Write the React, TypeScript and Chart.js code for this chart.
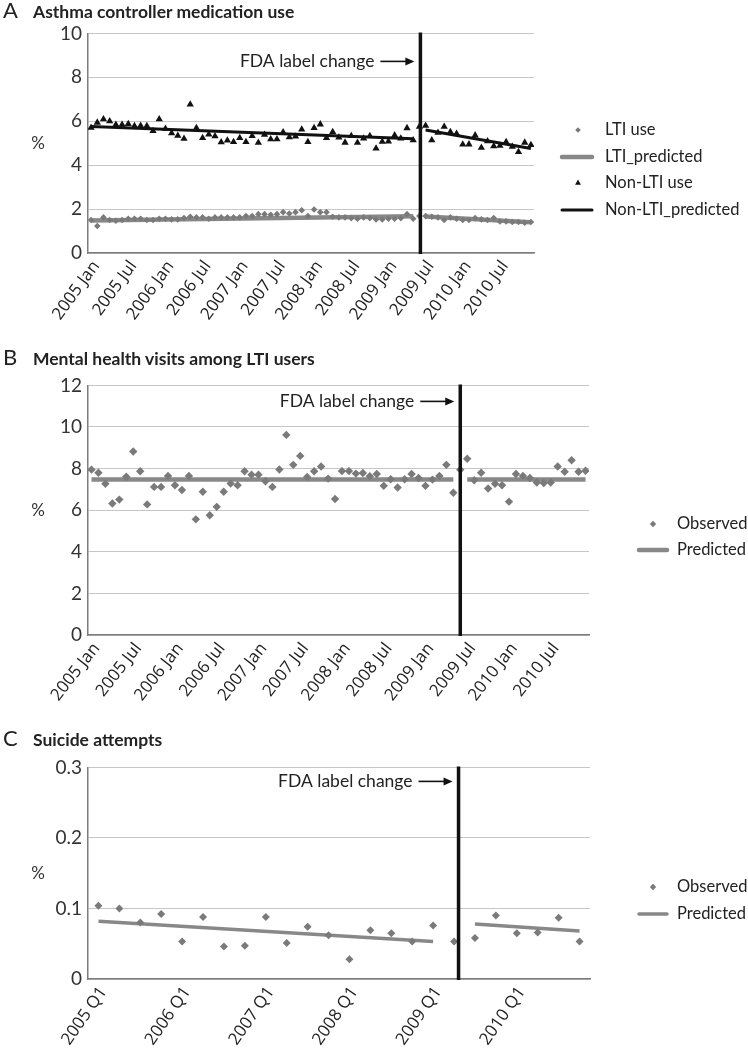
import React, { useEffect, useRef } from "react";
import { Chart, registerables } from "chart.js";

Chart.register(...registerables);

// ---------- categories & tick labels ----------
const years = [2005, 2006, 2007, 2008, 2009, 2010];
const monthNames = ["Jan", "Feb", "Mar", "Apr", "May", "Jun", "Jul", "Aug", "Sep", "Oct", "Nov", "Dec"];
const quarterNames = ["Q1", "Q2", "Q3", "Q4"];
const monthCategories = years.flatMap((y) => monthNames.map((m) => `${y} ${m}`));
const quarterCategories = years.flatMap((y) => quarterNames.map((q) => `${y} ${q}`));

const monthTickLabels = [
  "2005 Jan", "2005 Jul", "2006 Jan", "2006 Jul", "2007 Jan", "2007 Jul",
  "2008 Jan", "2008 Jul", "2009 Jan", "2009 Jul", "2010 Jan", "2010 Jul",
];
const quarterTickLabels = ["2005 Q1", "2006 Q1", "2007 Q1", "2008 Q1", "2009 Q1", "2010 Q1"];

// FDA label change timing
const fdaChangeMonth = "2009 Jun";
const fdaChangeQuarter = "2009 Q2";

// segments of the interrupted time-series regression
const preMonths = ["2005 Jan", "2009 May"];
const postMonths = ["2009 Jul", "2010 Dec"];
const preQuarters = ["2005 Q1", "2009 Q1"];
const postQuarters = ["2009 Q3", "2010 Q4"];

// ---------- Panel A: asthma controller medication use (%) ----------
const ltiUse = [
  1.50, 1.23, 1.62, 1.50, 1.47, 1.50, 1.56, 1.56, 1.56, 1.50,
  1.50, 1.56, 1.56, 1.53, 1.53, 1.59, 1.65, 1.62, 1.62, 1.56,
  1.62, 1.62, 1.62, 1.62, 1.62, 1.68, 1.68, 1.77, 1.77, 1.74,
  1.77, 1.86, 1.80, 1.86, 1.95, 1.68, 1.98, 1.86, 1.86, 1.65,
  1.62, 1.62, 1.59, 1.56, 1.62, 1.59, 1.53, 1.53, 1.56, 1.56,
  1.59, 1.77, 1.56, 1.68, 1.68, 1.65, 1.62, 1.50, 1.62, 1.56,
  1.50, 1.50, 1.59, 1.53, 1.50, 1.59, 1.44, 1.44, 1.41, 1.41,
  1.38, 1.41,
];
const nonLtiUse = [
  5.71, 5.94, 6.09, 6.00, 5.84, 5.84, 5.88, 5.79, 5.80, 5.79,
  5.56, 6.09, 5.66, 5.46, 5.34, 5.21, 6.77, 5.70, 5.24, 5.40,
  5.32, 5.05, 5.13, 5.06, 5.24, 5.06, 5.33, 5.02, 5.39, 5.18,
  5.18, 5.50, 5.27, 5.31, 5.63, 5.06, 5.70, 5.86, 5.24, 5.51,
  5.26, 5.03, 5.33, 5.02, 5.22, 5.33, 4.76, 5.07, 5.08, 5.36,
  5.22, 5.69, 5.14, 5.75, 5.80, 5.14, 5.48, 5.75, 5.51, 5.43,
  4.94, 4.95, 5.36, 4.80, 5.09, 4.86, 4.89, 5.06, 4.84, 4.60,
  5.03, 4.92,
];
const ltiPredictedPre = [1.48, 1.67];
const ltiPredictedPost = [1.66, 1.40];
const nonLtiPredictedPre = [5.76, 5.20];
const nonLtiPredictedPost = [5.60, 4.76];

// ---------- Panel B: mental health visits among LTI users (%) ----------
const mentalObserved = [
  7.95, 7.80, 7.27, 6.32, 6.51, 7.61, 8.82, 7.87, 6.28, 7.12,
  7.12, 7.65, 7.20, 6.97, 7.65, 5.56, 6.89, 5.76, 6.16, 6.89,
  7.28, 7.20, 7.87, 7.71, 7.71, 7.39, 7.12, 7.96, 9.62, 8.18,
  8.61, 7.60, 7.87, 8.10, 7.52, 6.54, 7.88, 7.88, 7.76, 7.79,
  7.63, 7.74, 7.17, 7.49, 7.09, 7.49, 7.74, 7.55, 7.17, 7.47,
  7.65, 8.18, 6.84, 7.95, 8.47, 7.44, 7.80, 7.04, 7.27, 7.20,
  6.41, 7.74, 7.65, 7.55, 7.33, 7.31, 7.33, 8.10, 7.85, 8.40,
  7.85, 7.90,
];
const mentalPredictedPre = [7.48, 7.48];
const mentalPredictedPost = [7.47, 7.47];

// ---------- Panel C: suicide attempts (%) ----------
const suicideObserved = [
  0.104, 0.100, 0.080, 0.092, 0.053, 0.088, 0.046, 0.047, 0.088, 0.051,
  0.074, 0.062, 0.028, 0.069, 0.065, 0.053, 0.076, 0.053, 0.058, 0.090,
  0.065, 0.066, 0.087, 0.053,
];
const suicidePredictedPre = [0.082, 0.053];
const suicidePredictedPost = [0.078, 0.068];

// ---------- styles ----------
const GRAY = "#7a7a7a";
const LINE_GRAY = "#888888";
const BLACK = "#111111";
const TEXT = "#222222";
const PAGE_W = 748;

const series = (vals: number[]) => vals.map((v, i) => ({ x: i, y: v }));
const segment = (cats: string[], all: string[], vals: number[]) =>
  cats.map((c, i) => ({ x: all.indexOf(c), y: vals[i] }));

function drawMarker(ctx: CanvasRenderingContext2D, style: string, x: number, y: number, r: number, color: string) {
  ctx.fillStyle = color;
  ctx.beginPath();
  if (style === "triangle") {
    ctx.moveTo(x, y - r);
    ctx.lineTo(x + 0.866 * r, y + 0.5 * r);
    ctx.lineTo(x - 0.866 * r, y + 0.5 * r);
  } else {
    ctx.moveTo(x - r, y);
    ctx.lineTo(x, y - r);
    ctx.lineTo(x + r, y);
    ctx.lineTo(x, y + r);
  }
  ctx.closePath();
  ctx.fill();
}

const annotationPlugin = {
  id: "fdaAnnotation",
  afterDatasetsDraw(chart: any, _args: any, opts: any) {
    const { ctx, chartArea, scales } = chart;
    const x = scales.x.getPixelForValue(opts.at) + opts.nudge;
    ctx.save();
    ctx.strokeStyle = BLACK;
    ctx.lineWidth = 3.5;
    ctx.beginPath();
    ctx.moveTo(x, chartArea.top - 1);
    ctx.lineTo(x, chartArea.bottom + 1);
    ctx.stroke();
    const ty = chartArea.top + opts.textDy;
    ctx.fillStyle = TEXT;
    ctx.font = "17.5px Lato";
    ctx.textAlign = "right";
    ctx.textBaseline = "middle";
    ctx.fillText(opts.text, x - 46, ty);
    ctx.strokeStyle = BLACK;
    ctx.lineWidth = 1.6;
    ctx.beginPath();
    ctx.moveTo(x - 40, ty);
    ctx.lineTo(x - 14, ty);
    ctx.stroke();
    ctx.fillStyle = BLACK;
    ctx.beginPath();
    ctx.moveTo(x - 6, ty);
    ctx.lineTo(x - 15, ty - 4);
    ctx.lineTo(x - 15, ty + 4);
    ctx.closePath();
    ctx.fill();
    ctx.fillStyle = "#333";
    ctx.font = "17px Lato";
    ctx.textAlign = "center";
    ctx.fillText(opts.unit, opts.unitX, (chartArea.top + chartArea.bottom) / 2);
    ctx.restore();
  },
};

const sideLegendPlugin = {
  id: "sideLegend",
  afterDraw(chart: any, _args: any, opts: any) {
    const { ctx } = chart;
    ctx.save();
    ctx.font = "16.5px Lato";
    ctx.textBaseline = "middle";
    ctx.textAlign = "left";
    opts.items.forEach((item: any, i: number) => {
      const ds = chart.data.datasets[item.dataset];
      const y = opts.rows[i];
      if (item.kind === "line") {
        ctx.strokeStyle = ds.borderColor;
        ctx.lineWidth = ds.borderWidth;
        ctx.lineCap = "round";
        ctx.beginPath();
        ctx.moveTo(opts.lineFrom, y);
        ctx.lineTo(opts.lineTo, y);
        ctx.stroke();
      } else {
        drawMarker(ctx, ds.pointStyle, opts.markerX, y, item.size, ds.pointBackgroundColor);
      }
      ctx.fillStyle = TEXT;
      ctx.fillText(ds.label, opts.textX, y);
    });
    ctx.restore();
  },
};

type Frame = { top: number; height: number; plotTop: number; plotBottom: number; plotRight: number };

function baseOptions(frame: Frame, x: any, yMin: number, yMax: number, yStep: number, plugins: any) {
  return {
    responsive: false,
    animation: false,
    events: [],
    layout: { padding: { top: frame.plotTop - frame.top, right: PAGE_W - frame.plotRight, left: 0, bottom: 0 } },
    scales: {
      x,
      y: {
        min: yMin,
        max: yMax,
        afterFit: (s: any) => {
          s.width = 88;
        },
        ticks: { stepSize: yStep, color: "#333", font: { family: "Lato", size: 19 }, padding: 6 },
        grid: { color: "#c6c6c6", lineWidth: 1, drawTicks: false },
        border: { display: true, color: "#7d7d7d", width: 1.5 },
      },
    },
    plugins: { legend: { display: false }, tooltip: { enabled: false }, ...plugins },
  };
}

function xScale(all: string[], tickLabels: string[], frame: Frame, rotation: number) {
  const positions = tickLabels.map((l) => all.indexOf(l));
  return {
    type: "linear",
    min: -0.5,
    max: all.length - 0.5,
    afterBuildTicks: (s: any) => {
      s.ticks = positions.map((v) => ({ value: v }));
    },
    afterFit: (s: any) => {
      s.height = frame.top + frame.height - frame.plotBottom;
    },
    grid: { display: false, drawTicks: false },
    border: { display: true, color: "#7d7d7d", width: 1.5 },
    ticks: {
      autoSkip: false,
      minRotation: rotation,
      maxRotation: rotation,
      padding: 4,
      labelOffset: 5,
      color: TEXT,
      font: { family: "Open Sans", size: 17 },
      callback: (_v: any, i: number) => tickLabels[i],
    },
  };
}

const frameA: Frame = { top: 16, height: 324, plotTop: 30, plotBottom: 253, plotRight: 534 };
const frameB: Frame = { top: 368, height: 342, plotTop: 382, plotBottom: 635, plotRight: 589 };
const frameC: Frame = { top: 750, height: 300, plotTop: 764, plotBottom: 979, plotRight: 590 };

function configA() {
  const f = frameA;
  return {
    type: "scatter",
    data: {
      datasets: [
        { label: "LTI use", data: series(ltiUse), pointStyle: "rectRot", pointRadius: 3.3, pointBackgroundColor: GRAY, pointBorderWidth: 0, showLine: false },
        { label: "Non-LTI use", data: series(nonLtiUse), pointStyle: "triangle", pointRadius: 4.2, pointBackgroundColor: BLACK, pointBorderWidth: 0, showLine: false },
        { label: "LTI_predicted", data: segment(preMonths, monthCategories, ltiPredictedPre), showLine: true, borderColor: LINE_GRAY, borderWidth: 4.5, pointRadius: 0 },
        { label: "LTI_predicted", data: segment(postMonths, monthCategories, ltiPredictedPost), showLine: true, borderColor: LINE_GRAY, borderWidth: 4.5, pointRadius: 0 },
        { label: "Non-LTI_predicted", data: segment(preMonths, monthCategories, nonLtiPredictedPre), showLine: true, borderColor: BLACK, borderWidth: 3, pointRadius: 0 },
        { label: "Non-LTI_predicted", data: segment(postMonths, monthCategories, nonLtiPredictedPost), showLine: true, borderColor: BLACK, borderWidth: 3, pointRadius: 0 },
      ],
    },
    options: baseOptions(f, xScale(monthCategories, monthTickLabels, f, 54), 0, 10, 2, {
      fdaAnnotation: { at: monthCategories.indexOf(fdaChangeMonth), nudge: 1, textDy: 28, text: "FDA label change", unit: "%", unitX: 38 },
      sideLegend: {
        items: [
          { dataset: 0, kind: "marker", size: 2.8 },
          { dataset: 2, kind: "line" },
          { dataset: 1, kind: "marker", size: 3.4 },
          { dataset: 4, kind: "line" },
        ],
        rows: [130 - f.top, 157 - f.top, 183 - f.top, 210 - f.top],
        markerX: 578,
        lineFrom: 562,
        lineTo: 592,
        textX: 605,
      },
    }),
    plugins: [annotationPlugin, sideLegendPlugin],
  };
}

function configB() {
  const f = frameB;
  return {
    type: "scatter",
    data: {
      datasets: [
        { label: "Observed", data: series(mentalObserved), pointStyle: "rectRot", pointRadius: 4.2, pointBackgroundColor: GRAY, pointBorderWidth: 0, showLine: false },
        { label: "Predicted", data: segment(preMonths, monthCategories, mentalPredictedPre), showLine: true, borderColor: LINE_GRAY, borderWidth: 4.5, pointRadius: 0 },
        { label: "Predicted", data: segment(postMonths, monthCategories, mentalPredictedPost), showLine: true, borderColor: LINE_GRAY, borderWidth: 4.5, pointRadius: 0 },
      ],
    },
    options: baseOptions(f, xScale(monthCategories, monthTickLabels, f, 52), 0, 12, 2, {
      fdaAnnotation: { at: monthCategories.indexOf(fdaChangeMonth), nudge: 0, textDy: 16, text: "FDA label change", unit: "%", unitX: 38 },
      sideLegend: {
        items: [
          { dataset: 0, kind: "marker", size: 3.2 },
          { dataset: 1, kind: "line" },
        ],
        rows: [524 - f.top, 550 - f.top],
        markerX: 653,
        lineFrom: 639,
        lineTo: 667,
        textX: 677,
      },
    }),
    plugins: [annotationPlugin, sideLegendPlugin],
  };
}

function configC() {
  const f = frameC;
  return {
    type: "scatter",
    data: {
      datasets: [
        { label: "Observed", data: series(suicideObserved), pointStyle: "rectRot", pointRadius: 4, pointBackgroundColor: GRAY, pointBorderWidth: 0, showLine: false },
        { label: "Predicted", data: segment(preQuarters, quarterCategories, suicidePredictedPre), showLine: true, borderColor: LINE_GRAY, borderWidth: 3.5, pointRadius: 0 },
        { label: "Predicted", data: segment(postQuarters, quarterCategories, suicidePredictedPost), showLine: true, borderColor: LINE_GRAY, borderWidth: 3.5, pointRadius: 0 },
      ],
    },
    options: baseOptions(f, xScale(quarterCategories, quarterTickLabels, f, 55), 0, 0.3, 0.1, {
      fdaAnnotation: { at: quarterCategories.indexOf(fdaChangeQuarter), nudge: 4.5, textDy: 14, text: "FDA label change", unit: "%", unitX: 38 },
      sideLegend: {
        items: [
          { dataset: 0, kind: "marker", size: 3.2 },
          { dataset: 1, kind: "line" },
        ],
        rows: [887 - f.top, 914 - f.top],
        markerX: 653,
        lineFrom: 639,
        lineTo: 667,
        textX: 677,
      },
    }),
    plugins: [annotationPlugin, sideLegendPlugin],
  };
}

function ChartCanvas({ frame, build }: { frame: Frame; build: () => any }) {
  const ref = useRef<HTMLCanvasElement>(null);
  useEffect(() => {
    const chart = new Chart(ref.current as HTMLCanvasElement, build());
    return () => chart.destroy();
  }, []);
  return (
    <canvas
      ref={ref}
      width={PAGE_W}
      height={frame.height}
      style={{ position: "absolute", left: 0, top: frame.top, width: PAGE_W, height: frame.height }}
    />
  );
}

function PanelTitle({ letter, title, baseline }: { letter: string; title: string; baseline: number }) {
  return (
    <>
      <div style={{ position: "absolute", left: 3, top: baseline - 19, fontFamily: "Lato", fontSize: 22, lineHeight: "22px", color: TEXT }}>
        {letter}
      </div>
      <div style={{ position: "absolute", left: 33, top: baseline - 15.5, fontFamily: "Lato", fontWeight: 700, fontSize: 17.5, lineHeight: "17.5px", color: TEXT }}>
        {title}
      </div>
    </>
  );
}

export default function App() {
  return (
    <div style={{ position: "absolute", left: 0, top: 0, width: PAGE_W, height: 1050, overflow: "hidden", background: "#fff" }}>
      <ChartCanvas frame={frameA} build={configA} />
      <ChartCanvas frame={frameB} build={configB} />
      <ChartCanvas frame={frameC} build={configC} />
      <PanelTitle letter="A" title="Asthma controller medication use" baseline={18} />
      <PanelTitle letter="B" title="Mental health visits among LTI users" baseline={365} />
      <PanelTitle letter="C" title="Suicide attempts" baseline={746} />
    </div>
  );
}
